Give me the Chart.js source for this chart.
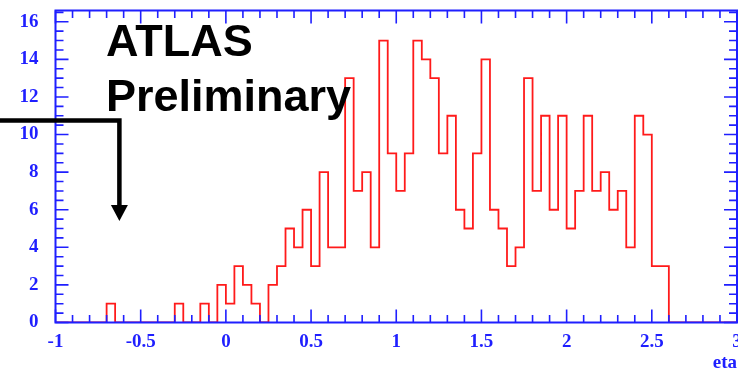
<!DOCTYPE html>
<html>
<head>
<meta charset="utf-8">
<script src="https://cdn.jsdelivr.net/npm/chart.js"></script>
<style>
  html, body { margin: 0; padding: 0; background: #fff; }
  #etaCanvas { display: block; }
</style>
</head>
<body>
<canvas id="etaCanvas" width="738" height="375"></canvas>
<script>
// histogram binning: 80 bins of 0.05 between -1 and 3
const binStart = -1;
const binWidth = 0.05;
const binCounts = [
  0, 0, 0, 0, 0, 0, 1, 0, 0, 0,
  0, 0, 0, 0, 1, 0, 0, 1, 0, 2,
  1, 3, 2, 1, 0, 2, 3, 5, 4, 6,
  3, 8, 4, 4, 13, 7, 8, 4, 15, 9,
  7, 9, 15, 14, 13, 9, 11, 6, 5, 9,
  14, 6, 5, 3, 4, 13, 7, 11, 6, 11,
  5, 7, 11, 7, 8, 6, 7, 4, 11, 10,
  3, 3, 0, 0, 0, 0, 0, 0, 0, 0
];
const xTicks = [-1, -0.5, 0, 0.5, 1, 1.5, 2, 2.5, 3];
const yTicks = [0, 2, 4, 6, 8, 10, 12, 14, 16];
const xMinorStep = 0.1;
const yMinorStep = 0.5;
const yMax = 16.6;

// annotation (arrow pointing at eta ~ -0.62)
const arrowEta = -0.625;
const arrowTopY = 10.75;
const arrowTipY = 5.4;

const axisBlue = '#1f1fff';
const labelFont = { family: '"Liberation Serif", "Times New Roman", serif', size: 19, weight: 'bold' };

const points = binCounts.map((c, i) => ({ x: binStart + i * binWidth, y: c }));
points.push({ x: binStart + binCounts.length * binWidth, y: 0 });

// ROOT style frame: blue box with ticks pointing inward on all sides
const rootFrame = {
  id: 'rootFrame',
  afterDatasetsDraw(chart) {
    const { ctx, chartArea: a, scales: { x, y } } = chart;
    ctx.save();
    ctx.strokeStyle = axisBlue;
    ctx.lineWidth = 2;
    ctx.strokeRect(a.left, a.top, a.right - a.left, a.bottom - a.top);
    ctx.lineWidth = 1.6;
    ctx.beginPath();
    const nx = Math.round((x.max - x.min) / xMinorStep);
    for (let k = 0; k <= nx; k++) {
      const v = x.min + k * xMinorStep;
      const px = x.getPixelForValue(v);
      const len = xTicks.some(t => Math.abs(t - v) < 1e-6) ? 13 : 7.5;
      ctx.moveTo(px, a.bottom); ctx.lineTo(px, a.bottom - len);
      ctx.moveTo(px, a.top); ctx.lineTo(px, a.top + len);
    }
    const ny = Math.floor(y.max / yMinorStep + 1e-6);
    for (let k = 0; k <= ny; k++) {
      const v = k * yMinorStep;
      const py = y.getPixelForValue(v);
      const len = yTicks.some(t => Math.abs(t - v) < 1e-6) ? 13 : 8;
      ctx.moveTo(a.left, py); ctx.lineTo(a.left + len, py);
      ctx.moveTo(a.right, py); ctx.lineTo(a.right - len, py);
    }
    ctx.stroke();
    ctx.restore();
  },
  afterDraw(chart) {
    const { ctx, scales: { x, y } } = chart;
    ctx.save();
    // label
    ctx.fillStyle = '#000';
    ctx.font = 'bold 45px "Liberation Sans", Arial, sans-serif';
    ctx.textBaseline = 'alphabetic';
    ctx.fillText('ATLAS', 106, 56);
    ctx.fillText('Preliminary', 106, 111);
    // arrow
    const ax = x.getPixelForValue(arrowEta);
    const ay = y.getPixelForValue(arrowTopY);
    const tip = y.getPixelForValue(arrowTipY);
    ctx.strokeStyle = '#000';
    ctx.lineWidth = 4.5;
    ctx.lineJoin = 'miter';
    ctx.beginPath();
    ctx.moveTo(0, ay);
    ctx.lineTo(ax, ay);
    ctx.lineTo(ax, tip - 14);
    ctx.stroke();
    ctx.beginPath();
    ctx.moveTo(ax - 8.5, tip - 16);
    ctx.lineTo(ax + 8.5, tip - 16);
    ctx.lineTo(ax, tip);
    ctx.closePath();
    ctx.fillStyle = '#000';
    ctx.fill();
    ctx.restore();
  }
};

new Chart(document.getElementById('etaCanvas'), {
  type: 'line',
  data: {
    datasets: [{
      label: 'eta',
      data: points,
      stepped: true,
      borderColor: '#ff1a1a',
      borderWidth: 1.8,
      pointRadius: 0,
      fill: false,
      tension: 0
    }]
  },
  options: {
    responsive: false,
    animation: false,
    layout: { padding: { left: 0, right: 1, top: 10.5, bottom: 0 } },
    plugins: {
      legend: { display: false },
      tooltip: { enabled: false }
    },
    scales: {
      x: {
        type: 'linear',
        min: -1,
        max: 3,
        afterBuildTicks: s => { s.ticks = xTicks.map(v => ({ value: v })); },
        afterFit: s => { s.height = 52.5; s.paddingLeft = 0; s.paddingRight = 0; },
        grid: { display: false, drawTicks: false },
        border: { display: false },
        ticks: {
          color: axisBlue,
          font: labelFont,
          padding: 8,
          maxRotation: 0,
          autoSkip: false,
          callback: v => String(v)
        },
        title: {
          display: true,
          text: 'eta',
          align: 'end',
          color: axisBlue,
          font: labelFont,
          padding: { top: 0, bottom: 1 }
        }
      },
      y: {
        min: 0,
        max: yMax,
        afterBuildTicks: s => { s.ticks = yTicks.map(v => ({ value: v })); },
        afterFit: s => { s.width = 55.5; s.paddingTop = 0; s.paddingBottom = 0; },
        grid: { display: false, drawTicks: false },
        border: { display: false },
        ticks: {
          color: axisBlue,
          font: labelFont,
          padding: 17,
          autoSkip: false,
          callback: v => String(v)
        }
      }
    }
  },
  plugins: [rootFrame]
});
</script>
</body>
</html>
